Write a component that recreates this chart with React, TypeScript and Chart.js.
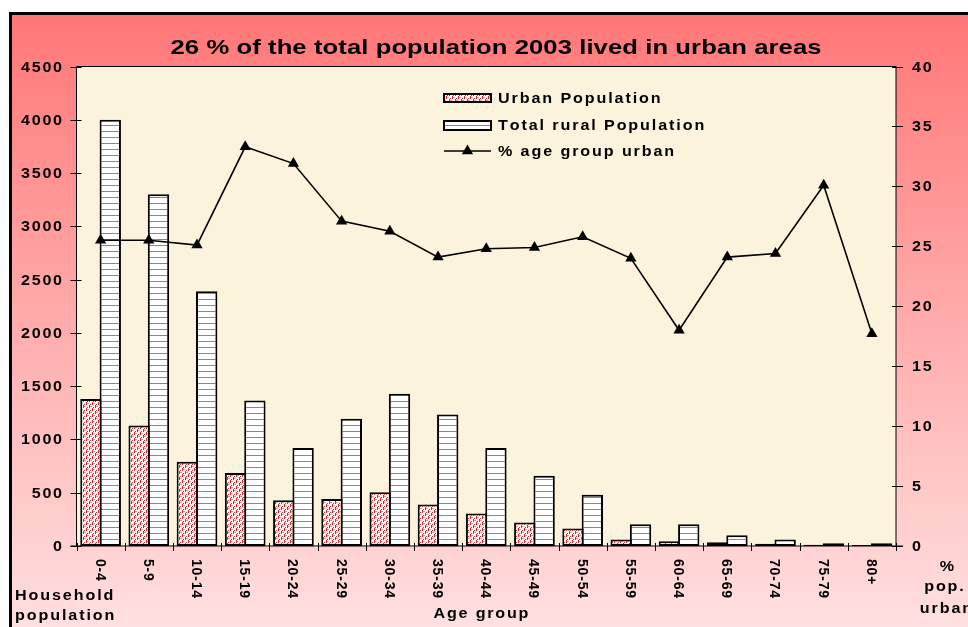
import React, { useEffect, useRef } from "react";
import { Chart, registerables } from "chart.js";

Chart.register(...registerables);

const ageGroups = ["0-4", "5-9", "10-14", "15-19", "20-24", "25-29", "30-34", "35-39", "40-44", "45-49", "50-54", "55-59", "60-64", "65-69", "70-74", "75-79", "80+"];
const urbanPopulation = [1380, 1130, 790, 685, 430, 440, 505, 390, 305, 220, 165, 60, 45, 35, 20, 12, 10];
const ruralPopulation = [4000, 3300, 2390, 1365, 920, 1195, 1430, 1235, 920, 660, 480, 205, 205, 100, 60, 25, 25];
const pctUrban = [25.5, 25.5, 25.1, 33.3, 31.9, 27.1, 26.25, 24.1, 24.8, 24.9, 25.8, 24.0, 18.0, 24.1, 24.4, 30.1, 17.7];
const leftTicks = [0, 500, 1000, 1500, 2000, 2500, 3000, 3500, 4000, 4500];
const rightTicks = [0, 5, 10, 15, 20, 25, 30, 35, 40];

const titleText = "26 % of the total population 2003 lived in urban areas";
const legendLabels = ["Urban Population", "Total rural Population", "% age group urban"];

const W = 968;
const H = 627;
const FONT = '"Liberation Sans", Arial, sans-serif';
const GREEN = "#30b488";

function makeUrbanPattern(ctx: CanvasRenderingContext2D) {
  const c = document.createElement("canvas");
  c.width = 6;
  c.height = 6;
  const g = c.getContext("2d")!;
  g.fillStyle = "#ffffff";
  g.fillRect(0, 0, 6, 6);
  g.fillStyle = "#f49494";
  g.fillRect(3, 1, 2, 1);
  g.fillRect(0, 4, 2, 1);
  g.fillStyle = "#e42424";
  g.fillRect(2, 0, 1, 3);
  g.fillRect(5, 3, 1, 3);
  g.fillRect(0, 2, 1, 1);
  g.fillRect(3, 5, 1, 1);
  return ctx.createPattern(c, "repeat")!;
}

function makeRuralPattern(ctx: CanvasRenderingContext2D) {
  const c = document.createElement("canvas");
  c.width = 6;
  c.height = 6;
  const g = c.getContext("2d")!;
  g.fillStyle = "#ffffff";
  g.fillRect(0, 0, 6, 6);
  g.fillStyle = GREEN;
  g.fillRect(0, 5, 6, 1);
  return ctx.createPattern(c, "repeat")!;
}

// draws text char by char with horizontal stretch and letter spacing
function spacedText(
  ctx: CanvasRenderingContext2D,
  s: string,
  x: number,
  baseline: number,
  size: number,
  ls: number,
  align: "left" | "center" | "right",
  sx = 1.15,
  fitWidth?: number
) {
  ctx.save();
  ctx.font = `bold ${size}px ${FONT}`;
  ctx.textAlign = "left";
  ctx.textBaseline = "alphabetic";
  ctx.fillStyle = "#000";
  const chars = Array.from(s);
  const ws = chars.map((ch) => ctx.measureText(ch).width * sx);
  const sum = ws.reduce((a, b) => a + b, 0);
  let spacing = ls;
  if (fitWidth !== undefined && ws.length > 1) spacing = (fitWidth - sum) / (ws.length - 1);
  const total = sum + spacing * (ws.length - 1);
  let x0 = x;
  if (align === "center") x0 = x - total / 2;
  else if (align === "right") x0 = x - total;
  for (let i = 0; i < chars.length; i++) {
    ctx.save();
    ctx.translate(x0, baseline);
    ctx.scale(sx, 1);
    ctx.fillText(chars[i], 0, 0);
    ctx.restore();
    x0 += ws[i] + spacing;
  }
  ctx.restore();
}

function rotatedText(ctx: CanvasRenderingContext2D, s: string, cx: number, top: number, size: number, ls: number) {
  ctx.save();
  ctx.translate(cx, top);
  ctx.rotate(Math.PI / 2);
  spacedText(ctx, s, 0, (size * 0.716) / 2, size, ls, "left", 1.0);
  ctx.restore();
}

export default function App() {
  const ref = useRef<HTMLCanvasElement>(null);

  useEffect(() => {
    const canvas = ref.current!;
    const ctx = canvas.getContext("2d")!;
    const urbanPattern = makeUrbanPattern(ctx);
    const ruralPattern = makeRuralPattern(ctx);

    const decor = {
      id: "decor",
      beforeDraw(chart: any) {
        const c = chart.ctx as CanvasRenderingContext2D;
        const { left, right, top, bottom } = chart.chartArea;
        c.save();
        c.fillStyle = "#ffffff";
        c.fillRect(0, 0, W, H);
        const grad = c.createLinearGradient(0, 12, 0, H);
        grad.addColorStop(0, "#ff7676");
        grad.addColorStop(0.5, "#ffabab");
        grad.addColorStop(1, "#ffe0e0");
        c.fillStyle = grad;
        c.fillRect(9, 12, W - 9, H - 12);
        c.strokeStyle = "#000";
        c.lineWidth = 3;
        c.beginPath();
        c.moveTo(10.5, H + 2);
        c.lineTo(10.5, 13.5);
        c.lineTo(W + 2, 13.5);
        c.stroke();
        c.fillStyle = "#fbf3dc";
        c.fillRect(left, top, right - left, bottom - top);
        c.restore();
      },
      afterDatasetsDraw(chart: any) {
        const c = chart.ctx as CanvasRenderingContext2D;
        const { left, right, top, bottom } = chart.chartArea;
        const y = chart.scales.y;
        const y1 = chart.scales.y1;
        c.save();
        c.strokeStyle = "#000";
        c.lineWidth = 1;
        c.beginPath();
        c.moveTo(left, top);
        c.lineTo(right, top);
        c.moveTo(left, top);
        c.lineTo(left, bottom);
        c.moveTo(right, top);
        c.lineTo(right, bottom);
        c.moveTo(left - 6, bottom);
        c.lineTo(right + 7, bottom);
        leftTicks.forEach((v) => {
          const py = Math.round(y.getPixelForValue(v)) + 0.5;
          c.moveTo(left - 6, py);
          c.lineTo(left + 5, py);
        });
        rightTicks.forEach((v) => {
          const py = Math.round(y1.getPixelForValue(v)) + 0.5;
          c.moveTo(right - 4, py);
          c.lineTo(right + 7, py);
        });
        const n = ageGroups.length;
        for (let i = 0; i <= n; i++) {
          const px = Math.round(left + (i * (right - left)) / n) + 0.5;
          c.moveTo(px, bottom - 3);
          c.lineTo(px, bottom + 5);
        }
        c.stroke();
        c.restore();
      },
      afterDraw(chart: any) {
        const c = chart.ctx as CanvasRenderingContext2D;
        const { left, right, bottom } = chart.chartArea;
        const y = chart.scales.y;
        const y1 = chart.scales.y1;
        const x = chart.scales.x;

        spacedText(c, titleText, 496, 53.5, 21, 0, "center", 1.22, 651);

        leftTicks.forEach((v) => {
          spacedText(c, String(v), left - 14.5, y.getPixelForValue(v) + 5, 14, 1.7, "right");
        });
        rightTicks.forEach((v) => {
          spacedText(c, String(v), right + 16, y1.getPixelForValue(v) + 5, 14, 1.7, "left");
        });
        ageGroups.forEach((lab, i) => {
          rotatedText(c, lab, x.getPixelForValue(i), bottom + 13, 14, 0.8);
        });

        spacedText(c, "Household", 15, 600, 14, 1.9, "left");
        spacedText(c, "population", 15, 619.5, 14, 1.9, "left");
        spacedText(c, "Age group", 481, 618, 14, 1.8, "center");
        spacedText(c, "%", 947, 570.5, 14, 1.8, "center");
        spacedText(c, "pop.", 944, 591, 14, 1.8, "center");
        spacedText(c, "urban", 946, 613, 14, 1.9, "center");

        // legend
        c.save();
        const sx = 444;
        const sw = 47;
        c.fillStyle = urbanPattern;
        c.fillRect(sx, 94, sw, 8);
        c.strokeStyle = "#000";
        c.lineWidth = 2;
        c.strokeRect(sx, 94, sw, 8);
        c.fillStyle = "#fff";
        c.fillRect(sx, 121, sw, 9);
        c.fillStyle = GREEN;
        c.fillRect(sx + 1, 125, sw - 2, 1);
        c.strokeRect(sx, 121, sw, 9);
        c.lineWidth = 1.5;
        c.beginPath();
        c.moveTo(sx, 151);
        c.lineTo(sx + sw, 151);
        c.stroke();
        const r = 6.5;
        const tx = sx + sw / 2;
        const ty = 151;
        c.fillStyle = "#000";
        c.beginPath();
        c.moveTo(tx, ty - r);
        c.lineTo(tx + r * Math.sin((2 * Math.PI) / 3), ty - r * Math.cos((2 * Math.PI) / 3));
        c.lineTo(tx + r * Math.sin((4 * Math.PI) / 3), ty - r * Math.cos((4 * Math.PI) / 3));
        c.closePath();
        c.fill();
        c.restore();
        spacedText(c, legendLabels[0], 498, 103, 14, 1.9, "left");
        spacedText(c, legendLabels[1], 498, 130, 14, 1.9, "left");
        spacedText(c, legendLabels[2], 498, 156, 14, 1.9, "left");
      },
    };

    const chart = new Chart(canvas, {
      type: "bar",
      data: {
        labels: ageGroups,
        datasets: [
          {
            type: "bar",
            label: legendLabels[0],
            data: urbanPopulation,
            yAxisID: "y",
            backgroundColor: urbanPattern as any,
            borderColor: "#000",
            borderWidth: 2,
            borderSkipped: false,
            categoryPercentage: 0.803,
            barPercentage: 1.103,
            order: 1,
          },
          {
            type: "bar",
            label: legendLabels[1],
            data: ruralPopulation,
            yAxisID: "y",
            backgroundColor: ruralPattern as any,
            borderColor: "#000",
            borderWidth: 2,
            borderSkipped: false,
            categoryPercentage: 0.803,
            barPercentage: 1.103,
            order: 2,
          },
          {
            type: "line",
            label: legendLabels[2],
            data: pctUrban,
            yAxisID: "y1",
            borderColor: "#000",
            borderWidth: 1.6,
            pointStyle: "triangle",
            pointRadius: 6.5,
            pointBackgroundColor: "#000",
            pointBorderColor: "#000",
            pointBorderWidth: 0,
            tension: 0,
            order: 0,
          } as any,
        ],
      },
      options: {
        responsive: false,
        animation: false,
        layout: { padding: { top: 66.5, left: 0, right: 0, bottom: 0 } },
        plugins: {
          legend: { display: false },
          title: { display: false },
          tooltip: { enabled: false },
        },
        scales: {
          x: {
            offset: true,
            grid: { display: false },
            border: { display: false },
            ticks: { display: false },
            afterFit: (s: any) => {
              s.height = 81;
            },
          },
          y: {
            position: "left",
            min: 0,
            max: 4500,
            ticks: { display: false, stepSize: 500 },
            grid: { display: false },
            border: { display: false },
            afterFit: (s: any) => {
              s.width = 76.5;
            },
          },
          y1: {
            position: "right",
            min: 0,
            max: 40,
            ticks: { display: false, stepSize: 5 },
            grid: { display: false },
            border: { display: false },
            afterFit: (s: any) => {
              s.width = 72;
            },
          },
        },
      } as any,
      plugins: [decor],
    });

    return () => chart.destroy();
  }, []);

  return (
    <div style={{ position: "fixed", left: 0, top: 0, width: W, height: H, overflow: "hidden", background: "#fff" }}>
      <canvas ref={ref} width={W} height={H} style={{ display: "block", width: W, height: H }} />
    </div>
  );
}
